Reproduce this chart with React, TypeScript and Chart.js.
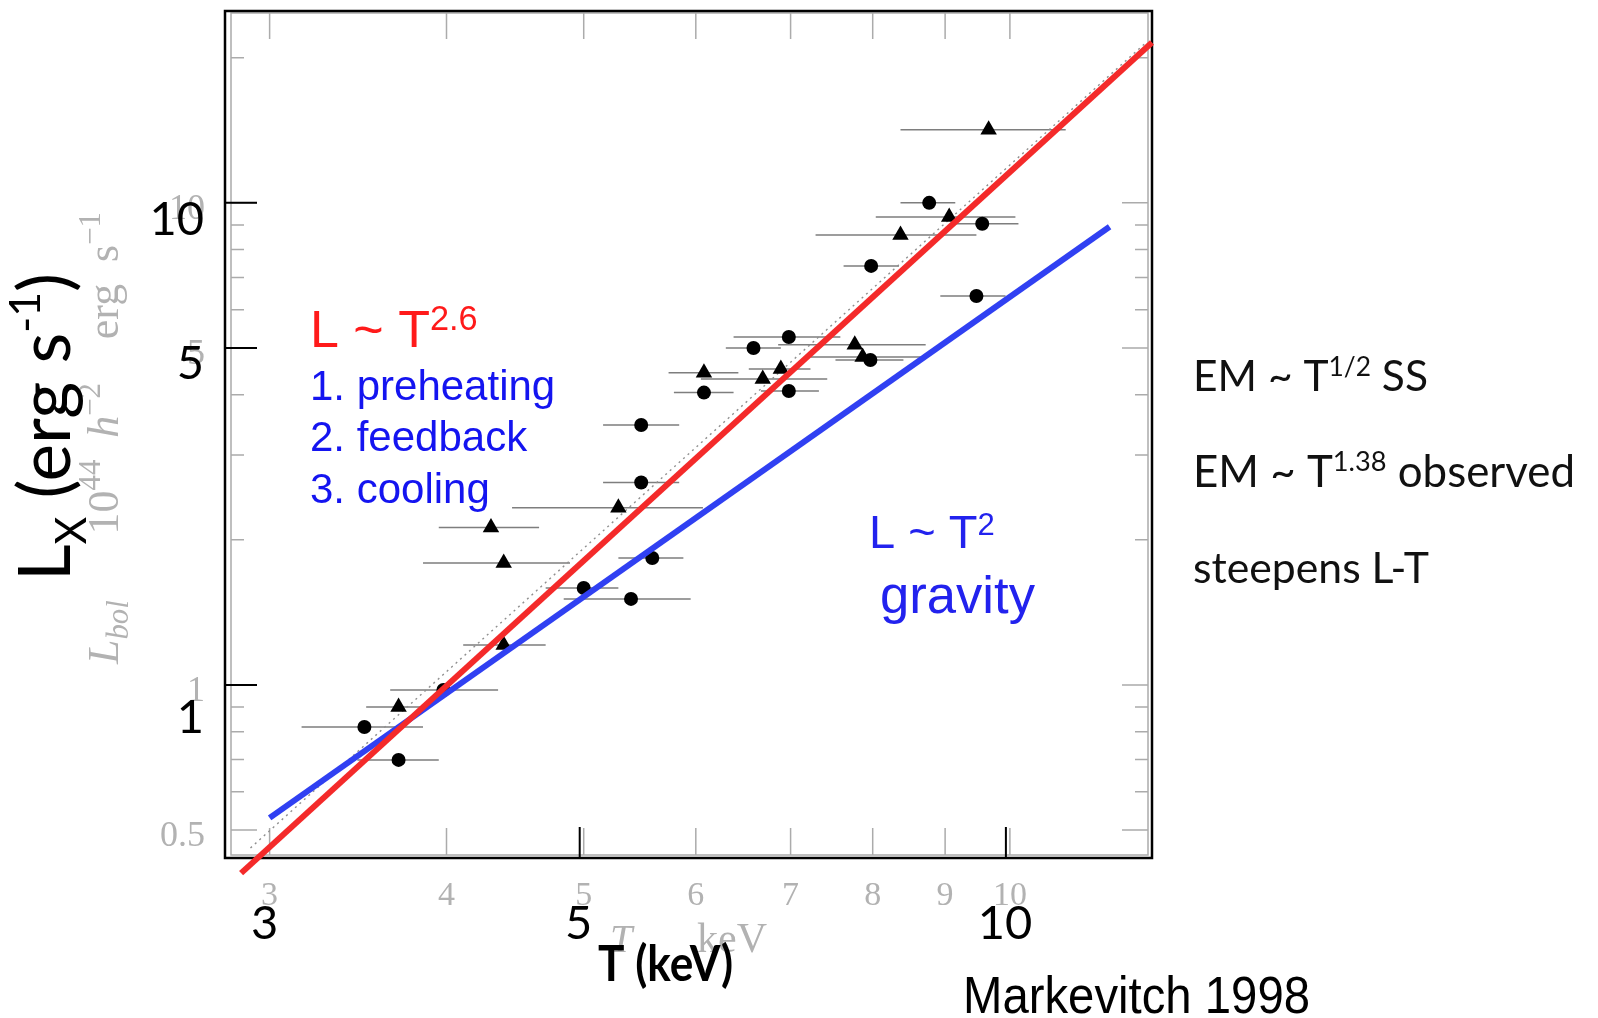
import React, { useEffect, useRef } from "react";
import { Chart, registerables } from "chart.js";

Chart.register(...registerables);

// ---------- data ----------
// circles: temperature (keV), luminosity, and horizontal error-bar limits
const circleT = [3.50, 3.70, 3.98, 5.00, 5.40, 5.59, 5.49, 5.49, 6.08, 6.59, 6.98, 6.98, 7.97, 7.98, 8.77, 9.56, 9.47];
const circleL = [0.818, 0.699, 0.976, 1.589, 1.508, 1.834, 2.63, 3.46, 4.04, 5.00, 5.27, 4.07, 4.72, 7.40, 10.0, 9.05, 6.41];
const circleTLo = [3.16, 3.46, 3.65, 4.70, 4.84, 5.29, 5.16, 5.16, 5.79, 6.30, 6.38, 6.67, 7.53, 7.63, 8.37, 9.13, 8.93];
const circleTHi = [3.85, 3.95, 4.35, 5.29, 5.95, 5.88, 5.84, 5.84, 6.38, 6.89, 7.59, 7.33, 8.41, 8.35, 9.15, 10.14, 9.93];

// triangles
const triT = [3.70, 4.39, 4.39, 4.30, 5.29, 6.08, 6.69, 6.89, 7.77, 7.87, 8.37, 9.06, 9.66];
const triL = [0.900, 1.21, 1.79, 2.12, 2.33, 4.44, 4.31, 4.52, 5.08, 4.79, 8.58, 9.35, 14.17];
const triTLo = [3.51, 4.11, 3.85, 3.95, 4.45, 5.74, 6.05, 6.54, 6.86, 7.23, 7.29, 8.04, 8.37];
const triTHi = [3.85, 4.70, 4.89, 4.65, 6.07, 6.43, 7.43, 7.23, 8.72, 8.65, 9.47, 10.09, 10.95];

// fitted / model lines (end points)
const redT = [2.864, 12.6];
const redL = [0.407, 21.5];
const blueT = [3.0, 11.76];
const blueL = [0.53, 8.92];
const dottedT = [2.908, 12.5];
const dottedL = [0.459, 21.6];

// axes
const xMin = 2.79;
const xMax = 12.6;
const yMin = 0.4375;
const yMax = 25;
const xTickValues = [3, 4, 5, 6, 7, 8, 9, 10];
const xTickLabels = ["3", "4", "5", "6", "7", "8", "9", "10"];
const yMajorValues = [0.5, 1, 5, 10];
const yMajorLabels = ["0.5", "1", "5", "10"];
const yMinorValues = [0.6, 0.7, 0.8, 0.9, 2, 3, 4, 6, 7, 8, 9, 20];
const slideXValues = [3, 5, 10];
const slideXLabels = ["3", "5", "10"];
const slideXMarks = [5, 10];
const slideYValues = [10, 5, 1];
const slideYLabels = ["10", "5", "1"];

// ---------- helpers ----------
type Seg = { t: string; s?: number; dy?: number; st?: string; c?: string };

function drawRich(
  ctx: CanvasRenderingContext2D,
  segs: Seg[],
  o: {
    x: number;
    y: number;
    width?: number;
    stretch?: boolean;
    base: number;
    family: string;
    weight?: string;
    color: string;
    rotate?: number;
  }
) {
  ctx.save();
  ctx.translate(o.x, o.y);
  if (o.rotate) ctx.rotate(o.rotate);
  const fontOf = (seg: Seg, size: number) =>
    [seg.st || "normal", o.weight || "normal", size.toFixed(2) + "px", o.family].join(" ");
  let total = 0;
  for (const seg of segs) {
    ctx.font = fontOf(seg, o.base * (seg.s ?? 1));
    total += ctx.measureText(seg.t).width;
  }
  let k = o.width ? o.width / total : 1;
  if (o.stretch) {
    ctx.scale(k, 1);
    k = 1;
  }
  ctx.textAlign = "left";
  ctx.textBaseline = "alphabetic";
  let cx = 0;
  for (const seg of segs) {
    const size = o.base * (seg.s ?? 1) * k;
    ctx.font = fontOf(seg, size);
    ctx.fillStyle = seg.c || o.color;
    ctx.fillText(seg.t, cx, (seg.dy ?? 0) * o.base * k);
    cx += ctx.measureText(seg.t).width;
  }
  ctx.restore();
}

const GRAY = "#ababab";
const GRAY_TEXT = "#b2b2b2";

const decor = {
  id: "decor",
  beforeDraw(chart: any) {
    const ctx = chart.ctx;
    ctx.save();
    ctx.fillStyle = "#ffffff";
    ctx.fillRect(0, 0, chart.width, chart.height);
    ctx.restore();
  },
  beforeDatasetsDraw(chart: any) {
    const { ctx, chartArea: a } = chart;
    const xs = chart.scales.x;
    const ys = chart.scales.y;
    const gl = a.left + 6;
    const gr = a.right - 4;
    const gt = a.top + 2;
    const gb = a.bottom - 3;
    ctx.save();
    // original figure frame + ticks (gray)
    ctx.strokeStyle = GRAY;
    ctx.lineWidth = 1.5;
    ctx.strokeRect(gl, gt, gr - gl, gb - gt);
    ctx.beginPath();
    xTickValues.forEach((v) => {
      const px = xs.getPixelForValue(v);
      ctx.moveTo(px, gb);
      ctx.lineTo(px, gb - 27);
      ctx.moveTo(px, gt);
      ctx.lineTo(px, gt + 26);
    });
    yMajorValues.forEach((v) => {
      const py = ys.getPixelForValue(v);
      ctx.moveTo(gl, py);
      ctx.lineTo(gl + 26, py);
      ctx.moveTo(gr, py);
      ctx.lineTo(gr - 26, py);
    });
    yMinorValues.forEach((v) => {
      const py = ys.getPixelForValue(v);
      ctx.moveTo(gl, py);
      ctx.lineTo(gl + 13, py);
      ctx.moveTo(gr, py);
      ctx.lineTo(gr - 13, py);
    });
    ctx.stroke();

    // gray tick labels
    ctx.fillStyle = GRAY_TEXT;
    ctx.font = "34px 'Liberation Serif'";
    ctx.textAlign = "center";
    ctx.textBaseline = "alphabetic";
    xTickValues.forEach((v, i) => ctx.fillText(xTickLabels[i], xs.getPixelForValue(v), 905));
    ctx.textAlign = "right";
    ctx.textBaseline = "middle";
    ctx.font = "36px 'Liberation Serif'";
    yMajorValues.forEach((v, i) => ctx.fillText(yMajorLabels[i], 205, ys.getPixelForValue(v) + 7));

    // gray axis titles of the original figure
    drawRich(ctx, [{ t: "T", st: "italic" }], { x: 610, y: 952, base: 40, family: "'Liberation Serif'", color: GRAY_TEXT });
    drawRich(ctx, [{ t: "keV" }], { x: 697, y: 952, width: 70, base: 40, family: "'Liberation Serif'", color: GRAY_TEXT });
    drawRich(
      ctx,
      [
        { t: "L", st: "italic" },
        { t: "bol", s: 0.7, dy: 0.22, st: "italic" },
        { t: "      10" },
        { t: "44", s: 0.7, dy: -0.4 },
        { t: "  " },
        { t: "h", st: "italic" },
        { t: "\u22122", s: 0.7, dy: -0.4 },
        { t: "    erg  s" },
        { t: "\u22121", s: 0.7, dy: -0.4 },
      ],
      { x: 118, y: 664, width: 452, base: 30, family: "'Liberation Serif'", color: GRAY_TEXT, rotate: -Math.PI / 2 }
    );

    // slide frame (black)
    ctx.strokeStyle = "#000";
    ctx.lineWidth = 2.5;
    ctx.strokeRect(a.left, a.top, a.right - a.left, a.bottom - a.top);
    ctx.lineWidth = 2;
    ctx.beginPath();
    slideYValues.forEach((v) => {
      const py = ys.getPixelForValue(v);
      ctx.moveTo(a.left, py);
      ctx.lineTo(a.left + 32, py);
    });
    slideXMarks.forEach((v) => {
      const px = xs.getPixelForValue(v) - 4;
      ctx.moveTo(px, a.bottom);
      ctx.lineTo(px, a.bottom - 31);
    });
    ctx.stroke();
    ctx.restore();
  },
  afterDatasetsDraw(chart: any) {
    const { ctx } = chart;
    const xs = chart.scales.x;
    const ys = chart.scales.y;
    ctx.save();
    // slide tick labels
    ctx.fillStyle = "#000";
    ctx.font = "47px Lato";
    ctx.textAlign = "center";
    ctx.textBaseline = "alphabetic";
    slideXValues.forEach((v, i) => ctx.fillText(slideXLabels[i], xs.getPixelForValue(v) - 5, 939));
    ctx.textAlign = "right";
    const yShift = [32, 31, 48];
    slideYValues.forEach((v, i) => ctx.fillText(slideYLabels[i], 204, ys.getPixelForValue(v) + yShift[i]));
    ctx.restore();

    // y title
    drawRich(
      ctx,
      [{ t: "L" }, { t: "X", s: 0.6, dy: 0.22 }, { t: " (erg s" }, { t: "-1", s: 0.6, dy: -0.42 }, { t: ")" }],
      { x: 70, y: 581, width: 308, base: 70, family: "Lato", color: "#000", rotate: -Math.PI / 2 }
    );
    // x title (condensed bold)
    drawRich(ctx, [{ t: "T (keV)" }], {
      x: 598,
      y: 981,
      width: 135,
      stretch: true,
      base: 50,
      family: "Lato",
      weight: "bold",
      color: "#000",
    });

    // red annotation
    const RED = "#ff1a1a";
    const BLUE = "#1414f0";
    drawRich(ctx, [{ t: "L ~ T" }, { t: "2.6", s: 0.66, dy: -0.33 }], { x: 310, y: 347, base: 52, family: "'Liberation Sans'", color: RED });
    drawRich(ctx, [{ t: "1. preheating" }], { x: 310, y: 400, base: 42, family: "'Liberation Sans'", color: BLUE });
    drawRich(ctx, [{ t: "2. feedback" }], { x: 310, y: 451, base: 42, family: "'Liberation Sans'", color: BLUE });
    drawRich(ctx, [{ t: "3. cooling" }], { x: 310, y: 503, base: 42, family: "'Liberation Sans'", color: BLUE });

    // blue annotation
    const BLUE2 = "#2222ee";
    drawRich(ctx, [{ t: "L ~ T" }, { t: "2", s: 0.66, dy: -0.28 }], { x: 869, y: 548, base: 47, family: "'Liberation Sans'", color: BLUE2 });
    drawRich(ctx, [{ t: "gravity" }], { x: 880, y: 613, width: 155, base: 52, family: "'Liberation Sans'", color: BLUE2 });

    // right-hand notes
    drawRich(ctx, [{ t: "EM ~ T" }, { t: "1/2", s: 0.62, dy: -0.36 }, { t: " SS" }], { x: 1193, y: 391, width: 235, base: 38, family: "Lato", color: "#111" });
    drawRich(ctx, [{ t: "EM ~ T" }, { t: "1.38", s: 0.62, dy: -0.36 }, { t: " observed" }], { x: 1193, y: 487, width: 382, base: 38, family: "Lato", color: "#111" });
    drawRich(ctx, [{ t: "steepens L-T" }], { x: 1193, y: 583, width: 236, base: 38, family: "Lato", color: "#111" });

    // citation (slightly condensed)
    drawRich(ctx, [{ t: "Markevitch 1998" }], {
      x: 963,
      y: 1013,
      width: 347,
      stretch: true,
      base: 52,
      family: "'Liberation Sans'",
      color: "#000",
    });
  },
};

function errorSegments(lo: number[], hi: number[], l: number[]) {
  const pts: { x: number; y: number }[] = [];
  lo.forEach((v, i) => {
    pts.push({ x: v, y: l[i] }, { x: hi[i], y: l[i] }, { x: hi[i], y: NaN });
  });
  return pts;
}

const toPts = (xs: number[], ys: number[]) => xs.map((x, i) => ({ x, y: ys[i] }));

export default function App() {
  const ref = useRef<HTMLCanvasElement | null>(null);
  useEffect(() => {
    if (!ref.current) return;
    const chart = new Chart(ref.current, {
      type: "scatter",
      data: {
        datasets: [
          {
            label: "L ~ T^2.6",
            data: toPts(redT, redL),
            showLine: true,
            pointRadius: 0,
            borderColor: "#f42a2a",
            borderWidth: 6,
            clip: false,
            order: 0,
          } as any,
          {
            label: "L ~ T^2",
            data: toPts(blueT, blueL),
            showLine: true,
            pointRadius: 0,
            borderColor: "#3040f2",
            borderWidth: 6,
            order: 1,
          },
          {
            label: "fit (dotted)",
            data: toPts(dottedT, dottedL),
            showLine: true,
            pointRadius: 0,
            borderColor: "#8f8f8f",
            borderWidth: 1.4,
            borderDash: [2, 4],
            order: 3,
          },
          {
            label: "circles",
            data: toPts(circleT, circleL),
            pointStyle: "circle",
            pointRadius: 7,
            backgroundColor: "#000",
            borderColor: "#000",
            borderWidth: 0,
            order: 2,
          },
          {
            label: "triangles",
            data: toPts(triT, triL),
            pointStyle: "triangle",
            pointRadius: 9.5,
            backgroundColor: "#000",
            borderColor: "#000",
            borderWidth: 0,
            order: 2,
          },
          {
            label: "error bars",
            data: [...errorSegments(circleTLo, circleTHi, circleL), ...errorSegments(triTLo, triTHi, triL)],
            showLine: true,
            spanGaps: false,
            pointRadius: 0,
            borderColor: "#7e7e7e",
            borderWidth: 1.5,
            order: 4,
          },
        ],
      },
      options: {
        responsive: false,
        maintainAspectRatio: false,
        animation: false,
        devicePixelRatio: 1,
        events: [],
        layout: { padding: { left: 225, right: 446, top: 11, bottom: 160 } },
        scales: {
          x: { type: "logarithmic", min: xMin, max: xMax, display: false },
          y: { type: "logarithmic", min: yMin, max: yMax, display: false },
        },
        plugins: { legend: { display: false }, tooltip: { enabled: false } },
      },
      plugins: [decor],
    });
    return () => chart.destroy();
  }, []);
  return (
    <canvas
      ref={ref}
      width={1598}
      height={1018}
      style={{ position: "fixed", left: 0, top: 0, width: 1598, height: 1018, display: "block" }}
    />
  );
}
